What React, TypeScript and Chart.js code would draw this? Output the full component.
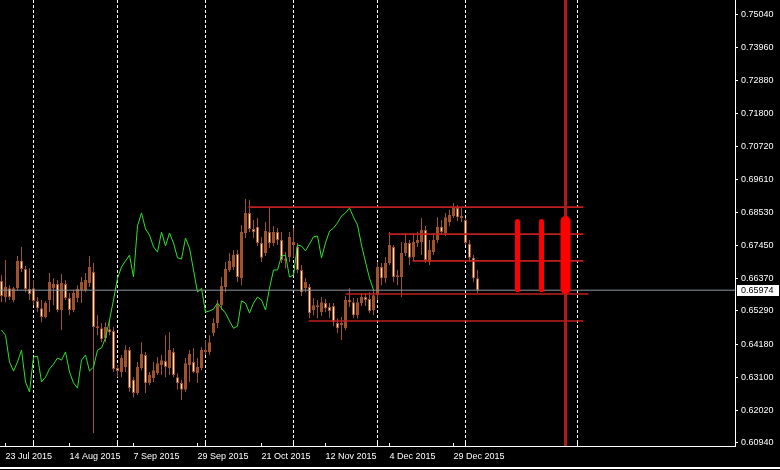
import React, { useEffect, useRef } from 'react';
import { Chart, registerables } from 'chart.js';
Chart.register(...registerables);

// Daily bars, index 0 = 22 Jul 2015
const opens = [
  0.6628, 0.6575, 0.6604, 0.6565, 0.6604, 0.6694, 0.6667, 0.6601, 0.6604, 0.6562,
  0.6538, 0.6509, 0.6565, 0.6604, 0.6618, 0.6532, 0.6618, 0.6572, 0.6532, 0.6572,
  0.6598, 0.6598, 0.6621, 0.6657, 0.6479, 0.6472, 0.6440, 0.6469, 0.6463, 0.6341,
  0.6328, 0.6344, 0.6400, 0.6302, 0.6259, 0.6341, 0.6384, 0.6292, 0.6308, 0.6324,
  0.6351, 0.6364, 0.6341, 0.6394, 0.6311, 0.6292, 0.6269, 0.6351, 0.6361, 0.6324,
  0.6341, 0.6394, 0.6394, 0.6456, 0.6489, 0.6548, 0.6608, 0.6664, 0.6674, 0.6717,
  0.6637, 0.6786, 0.6852, 0.6799, 0.6806, 0.6753, 0.6720, 0.6789, 0.6753, 0.6789,
  0.6763, 0.6700, 0.6707, 0.6746, 0.6740, 0.6664, 0.6604, 0.6608, 0.6532, 0.6542,
  0.6525, 0.6555, 0.6542, 0.6545, 0.6489, 0.6482, 0.6472, 0.6565, 0.6558, 0.6515,
  0.6555, 0.6575, 0.6568, 0.6532, 0.6581, 0.6674, 0.6637, 0.6687, 0.6740, 0.6647,
  0.6641, 0.6720, 0.6753, 0.6707, 0.6753, 0.6756, 0.6796, 0.6690, 0.6723, 0.6763,
  0.6806, 0.6786, 0.6822, 0.6842, 0.6868, 0.6842, 0.6829, 0.6750, 0.6704, 0.6637,
];
const highs = [
  0.6647, 0.6697, 0.6614, 0.6608, 0.6710, 0.6740, 0.6677, 0.6670, 0.6631, 0.6575,
  0.6565, 0.6562, 0.6654, 0.6637, 0.6631, 0.6651, 0.6631, 0.6588, 0.6598, 0.6614,
  0.6641, 0.6654, 0.6710, 0.6687, 0.6515, 0.6489, 0.6492, 0.6499, 0.6476, 0.6351,
  0.6384, 0.6416, 0.6410, 0.6311, 0.6361, 0.6426, 0.6394, 0.6328, 0.6361, 0.6377,
  0.6384, 0.6449, 0.6459, 0.6407, 0.6324, 0.6302, 0.6374, 0.6400, 0.6407, 0.6374,
  0.6410, 0.6433, 0.6449, 0.6505, 0.6565, 0.6641, 0.6690, 0.6720, 0.6730, 0.6730,
  0.6812, 0.6898, 0.6895, 0.6829, 0.6835, 0.6773, 0.6822, 0.6868, 0.6809, 0.6802,
  0.6789, 0.6723, 0.6789, 0.6802, 0.6753, 0.6680, 0.6637, 0.6618, 0.6572, 0.6565,
  0.6575, 0.6568, 0.6555, 0.6555, 0.6505, 0.6509, 0.6578, 0.6604, 0.6572, 0.6572,
  0.6588, 0.6588, 0.6591, 0.6598, 0.6690, 0.6687, 0.6707, 0.6789, 0.6746, 0.6664,
  0.6756, 0.6786, 0.6763, 0.6786, 0.6789, 0.6835, 0.6809, 0.6763, 0.6786, 0.6838,
  0.6829, 0.6852, 0.6862, 0.6885, 0.6878, 0.6868, 0.6835, 0.6763, 0.6713, 0.6664,
];
const lows = [
  0.6558, 0.6558, 0.6565, 0.6558, 0.6598, 0.6657, 0.6591, 0.6565, 0.6548, 0.6525,
  0.6492, 0.6505, 0.6525, 0.6548, 0.6525, 0.6466, 0.6565, 0.6515, 0.6525, 0.6558,
  0.6555, 0.6591, 0.6608, 0.6127, 0.6449, 0.6426, 0.6426, 0.6449, 0.6328, 0.6311,
  0.6311, 0.6328, 0.6262, 0.6245, 0.6252, 0.6334, 0.6259, 0.6285, 0.6295, 0.6318,
  0.6318, 0.6311, 0.6318, 0.6311, 0.6269, 0.6236, 0.6262, 0.6295, 0.6324, 0.6292,
  0.6334, 0.6384, 0.6384, 0.6446, 0.6472, 0.6532, 0.6591, 0.6657, 0.6664, 0.6624,
  0.6614, 0.6769, 0.6789, 0.6769, 0.6743, 0.6690, 0.6710, 0.6736, 0.6743, 0.6746,
  0.6687, 0.6670, 0.6690, 0.6704, 0.6654, 0.6578, 0.6591, 0.6505, 0.6515, 0.6505,
  0.6512, 0.6525, 0.6505, 0.6479, 0.6456, 0.6433, 0.6466, 0.6542, 0.6505, 0.6505,
  0.6545, 0.6545, 0.6522, 0.6515, 0.6565, 0.6614, 0.6621, 0.6680, 0.6624, 0.6614,
  0.6575, 0.6710, 0.6680, 0.6697, 0.6740, 0.6713, 0.6687, 0.6680, 0.6713, 0.6753,
  0.6779, 0.6776, 0.6809, 0.6835, 0.6825, 0.6822, 0.6746, 0.6690, 0.6624, 0.6588,
];
const closes = [
  0.6578, 0.6608, 0.6575, 0.6604, 0.6694, 0.6667, 0.6601, 0.6585, 0.6562, 0.6538,
  0.6509, 0.6555, 0.6624, 0.6618, 0.6532, 0.6621, 0.6572, 0.6532, 0.6588, 0.6601,
  0.6624, 0.6631, 0.6674, 0.6476, 0.6472, 0.6436, 0.6476, 0.6459, 0.6338, 0.6331,
  0.6374, 0.6400, 0.6275, 0.6259, 0.6344, 0.6387, 0.6292, 0.6318, 0.6334, 0.6357,
  0.6367, 0.6344, 0.6400, 0.6318, 0.6292, 0.6269, 0.6357, 0.6387, 0.6328, 0.6344,
  0.6400, 0.6400, 0.6426, 0.6489, 0.6548, 0.6611, 0.6667, 0.6694, 0.6713, 0.6641,
  0.6789, 0.6852, 0.6799, 0.6789, 0.6753, 0.6704, 0.6792, 0.6753, 0.6789, 0.6763,
  0.6697, 0.6694, 0.6773, 0.6756, 0.6664, 0.6591, 0.6624, 0.6522, 0.6548, 0.6548,
  0.6558, 0.6538, 0.6529, 0.6492, 0.6472, 0.6489, 0.6565, 0.6558, 0.6515, 0.6558,
  0.6575, 0.6565, 0.6529, 0.6581, 0.6674, 0.6637, 0.6687, 0.6746, 0.6641, 0.6641,
  0.6720, 0.6753, 0.6704, 0.6756, 0.6763, 0.6796, 0.6697, 0.6730, 0.6763, 0.6806,
  0.6789, 0.6838, 0.6845, 0.6871, 0.6838, 0.6835, 0.6753, 0.6704, 0.6637, 0.65974,
];

// Overlay (green) series, one value per bar from bar 0
const overlay = [
  0.6466, 0.6449, 0.6361, 0.6331, 0.6361, 0.6400, 0.6295, 0.6262, 0.6377, 0.6380,
  0.6295, 0.6311, 0.6338, 0.6354, 0.6374, 0.6367, 0.6394, 0.6328, 0.6292, 0.6275,
  0.6367, 0.6384, 0.6331, 0.6344, 0.6400, 0.6407, 0.6440, 0.6499, 0.6565, 0.6637,
  0.6674, 0.6694, 0.6713, 0.6641, 0.6809, 0.6852, 0.6799, 0.6779, 0.6740, 0.6723,
  0.6789, 0.6743, 0.6786, 0.6753, 0.6704, 0.6700, 0.6769, 0.6736, 0.6664, 0.6591,
  0.6604, 0.6525, 0.6529, 0.6535, 0.6555, 0.6538, 0.6522, 0.6496, 0.6472, 0.6479,
  0.6562, 0.6555, 0.6522, 0.6555, 0.6575, 0.6565, 0.6532, 0.6604, 0.6664, 0.6664,
  0.6710, 0.6713, 0.6641, 0.6647, 0.6746, 0.6743, 0.6727, 0.6750, 0.6773, 0.6776,
  0.6704, 0.6753, 0.6792, 0.6802, 0.6819, 0.6842, 0.6852, 0.6868, 0.6838, 0.6812,
  0.6746, 0.6690, 0.6637, 0.6598,
];

const currentPrice = 0.65974;

// Time axis labels (bar index -> text) and month separators
const dateTickIdx = [1, 17, 33, 49, 65, 81, 97, 113];
const dateTickText = ['23 Jul 2015', '14 Aug 2015', '7 Sep 2015', '29 Sep 2015', '21 Oct 2015', '12 Nov 2015', '4 Dec 2015', '29 Dec 2015'];
const monthSepIdx = [8, 29, 51, 73, 94, 116, 144];

// Price axis labels
const priceTicks = [0.7504, 0.7396, 0.7288, 0.718, 0.7072, 0.6961, 0.6853, 0.6745, 0.6637, 0.6529, 0.6418, 0.631, 0.6202, 0.6094];

// Horizontal levels: price, start bar, end bar
const levelPrice = [0.6871, 0.6782, 0.6694, 0.6585, 0.6496];
const levelFrom = [61.75, 96.75, 102.75, 86, 76.75];
const levelTo = [145.5, 145.5, 145.5, 146.75, 145.5];

// Future signal markers
const signalIdx = [129, 135];
const signalLow = [0.6591, 0.6591];
const signalHigh = [0.6832, 0.6832];
const bigSignalIdx = [141];
const bigSignalLow = [0.6585];
const bigSignalHigh = [0.6842];
const vlineIdx = 141;

const X_MIN = -0.375;
const X_MAX = 183.375;
const Y_MIN = 0.60841;
const Y_MAX = 0.75534;

const SIENNA = '#A0522D';
const CREAM = '#FFE8C8';
const FONT = '"Liberation Sans", Arial, sans-serif';

export default function App() {
  const ref = useRef<HTMLCanvasElement | null>(null);

  useEffect(() => {
    const canvas = ref.current;
    if (!canvas) return;

    const decor = {
      id: 'decor',
      afterDraw(chart: any) {
        const { ctx, chartArea } = chart;
        const ys = chart.scales.y;
        const xs = chart.scales.x;
        const py = ys.getPixelForValue(currentPrice);
        ctx.save();
        // small tick marks on the time axis (labels and month separators)
        ctx.strokeStyle = '#ffffff';
        ctx.lineWidth = 1;
        ctx.beginPath();
        [...dateTickIdx, ...monthSepIdx].forEach((v) => {
          const px = Math.floor(xs.getPixelForValue(v)) + 0.5;
          ctx.moveTo(px, chartArea.bottom - 3);
          ctx.lineTo(px, chartArea.bottom);
        });
        ctx.stroke();
        // current price label
        ctx.fillStyle = '#ffffff';
        ctx.fillRect(chartArea.right + 2, Math.round(py) - 5, 42, 11);
        ctx.fillStyle = '#000000';
        ctx.font = '9px ' + FONT;
        ctx.textBaseline = 'middle';
        ctx.textAlign = 'left';
        ctx.fillText(currentPrice.toFixed(5), chartArea.right + 6, Math.round(py) + 0.5);
        // window frame line at the bottom
        ctx.fillStyle = '#ffffff';
        ctx.fillRect(0, chart.height - 3, chart.width, 2);
        ctx.restore();
      },
    };

    const bg = {
      id: 'bg',
      beforeDraw(chart: any) {
        const { ctx } = chart;
        ctx.save();
        ctx.fillStyle = '#000';
        ctx.fillRect(0, 0, chart.width, chart.height);
        ctx.restore();
      },
    };

    const idx = opens.map((_, i) => i);
    const datasets: any[] = [
      {
        type: 'bar',
        data: idx.map((i) => ({ x: i, y: [lows[i], highs[i]] })),
        backgroundColor: SIENNA,
        barThickness: 1,
        grouped: false,
        inflateAmount: 0,
        order: 20,
      },
      {
        type: 'bar',
        data: idx.map((i) => ({ x: i, y: [opens[i], closes[i]] })),
        backgroundColor: idx.map((i) => (closes[i] >= opens[i] ? SIENNA : CREAM)),
        borderColor: SIENNA,
        borderWidth: 1,
        borderSkipped: false,
        barThickness: 3,
        grouped: false,
        inflateAmount: 0,
        order: 19,
      },
      {
        type: 'line',
        data: overlay.map((v, i) => ({ x: i, y: v })),
        borderColor: '#2BE02B',
        borderWidth: 1,
        pointRadius: 0,
        tension: 0,
        order: 18,
      },
      {
        type: 'line',
        data: [{ x: X_MIN, y: currentPrice }, { x: X_MAX, y: currentPrice }],
        borderColor: '#8E97A2',
        borderWidth: 1,
        pointRadius: 0,
        order: 17,
      },
      ...levelPrice.map((p, k) => ({
        type: 'line',
        data: [{ x: levelFrom[k], y: p }, { x: levelTo[k], y: p }],
        borderColor: '#BE201C',
        borderWidth: 1.6,
        pointRadius: 0,
        order: 16,
      })),
      {
        type: 'line',
        data: [{ x: vlineIdx, y: Y_MIN }, { x: vlineIdx, y: Y_MAX }],
        borderColor: '#B01A18',
        borderWidth: 3,
        pointRadius: 0,
        order: 15,
      },
      {
        type: 'bar',
        data: signalIdx.map((s, k) => ({ x: s, y: [signalLow[k], signalHigh[k]] })),
        backgroundColor: '#FF0000',
        barThickness: 5,
        borderRadius: 3,
        borderSkipped: false,
        grouped: false,
        inflateAmount: 0,
        order: 14,
      },
      {
        type: 'bar',
        data: bigSignalIdx.map((s, k) => ({ x: s, y: [bigSignalLow[k], bigSignalHigh[k]] })),
        backgroundColor: '#FF0000',
        barThickness: 10,
        borderRadius: 5,
        borderSkipped: false,
        grouped: false,
        inflateAmount: 0,
        order: 13,
      },
    ];

    const chart = new Chart(canvas, {
      type: 'bar',
      data: { datasets },
      plugins: [bg, decor],
      options: {
        animation: false,
        responsive: false,
        maintainAspectRatio: false,
        devicePixelRatio: 1,
        events: [],
        layout: { padding: 0 },
        plugins: { legend: { display: false }, tooltip: { enabled: false } },
        scales: {
          x: {
            type: 'linear',
            position: 'bottom',
            min: X_MIN,
            max: X_MAX,
            offset: false,
            afterBuildTicks: (s: any) => {
              s.ticks = dateTickIdx.map((v) => ({ value: v }));
            },
            afterFit: (s: any) => {
              s.height = 24;
              s.paddingLeft = 0;
              s.paddingRight = 0;
            },
            ticks: {
              autoSkip: false,
              maxRotation: 0,
              minRotation: 0,
              align: 'start',
              color: '#ffffff',
              padding: 5,
              font: { family: FONT, size: 9 },
              callback: (_v: any, i: number) => dateTickText[i],
            },
            grid: { display: true, drawOnChartArea: false, drawTicks: false, offset: false },
            border: { display: true, color: '#ffffff', width: 1 },
          },
          xg: {
            type: 'linear',
            position: 'top',
            min: X_MIN,
            max: X_MAX,
            offset: false,
            afterBuildTicks: (s: any) => {
              s.ticks = monthSepIdx.map((v) => ({ value: v }));
            },
            afterFit: (s: any) => {
              s.height = 0;
              s.paddingLeft = 0;
              s.paddingRight = 0;
            },
            ticks: { display: false },
            grid: { display: true, drawOnChartArea: true, drawTicks: false, color: '#ffffff', lineWidth: 1, offset: false },
            border: { display: false, dash: [3, 2] },
          },
          y: {
            type: 'linear',
            position: 'right',
            min: Y_MIN,
            max: Y_MAX,
            beginAtZero: false,
            afterBuildTicks: (s: any) => {
              s.ticks = priceTicks.map((v) => ({ value: v }));
            },
            afterFit: (s: any) => {
              s.width = 45;
              s.paddingTop = 0;
              s.paddingBottom = 0;
            },
            ticks: {
              color: '#ffffff',
              padding: 3,
              font: { family: FONT, size: 9 },
              callback: (v: any) => Number(v).toFixed(5),
            },
            grid: { display: true, drawOnChartArea: false, drawTicks: true, tickLength: 3, color: '#ffffff' },
            border: { display: true, color: '#ffffff', width: 1 },
          },
        },
      } as any,
    });

    return () => chart.destroy();
  }, []);

  return (
    <div style={{ position: 'absolute', left: 0, top: 0, width: 780, height: 470, background: '#000' }}>
      <canvas ref={ref} width={780} height={470} style={{ display: 'block', width: 780, height: 470 }} />
    </div>
  );
}
